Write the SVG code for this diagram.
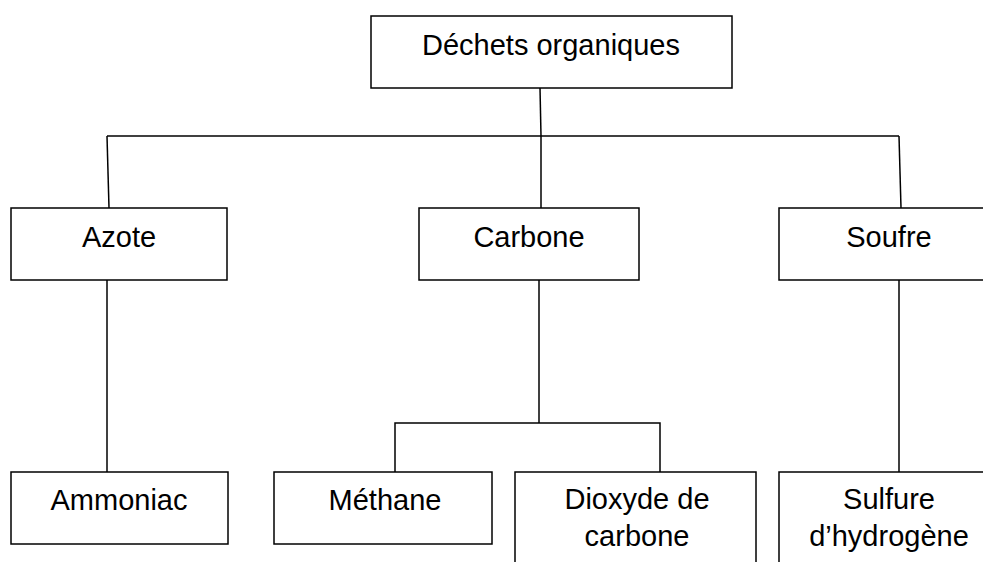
<svg xmlns="http://www.w3.org/2000/svg" width="983" height="562" viewBox="0 0 983 562">
<style>
.box{fill:#fff;stroke:#000;stroke-width:1.5}
.lbl{font-family:"Liberation Sans",Arial,sans-serif;font-size:29px;fill:#000;text-anchor:middle}
.con{fill:none;stroke:#000;stroke-width:1.5}
</style>
<rect width="983" height="562" fill="#fff"/>
<g id="connectors">
<path class="con" d="M540,88 L541,136"/>
<path class="con" d="M107,136 L899,136"/>
<path class="con" d="M107,136 L109,208"/>
<path class="con" d="M541,136 L541,208"/>
<path class="con" d="M899,136 L901,208"/>
<path class="con" d="M107,280 L107,472"/>
<path class="con" d="M539,280 L539,423"/>
<path class="con" d="M395,472 L395,423 L660,423 L660,472"/>
<path class="con" d="M899,280 L899,472"/>
</g>
<g id="dechets"><rect class="box" x="371" y="16" width="361" height="72"/><text class="lbl" x="551" y="55">Déchets organiques</text></g>
<g id="azote"><rect class="box" x="11" y="208" width="216" height="72"/><text class="lbl" x="119" y="247">Azote</text></g>
<g id="carbone"><rect class="box" x="419" y="208" width="220" height="72"/><text class="lbl" x="529" y="247">Carbone</text></g>
<g id="soufre"><rect class="box" x="779" y="208" width="220" height="72"/><text class="lbl" x="889" y="247">Soufre</text></g>
<g id="ammoniac"><rect class="box" x="11" y="472" width="217" height="72"/><text class="lbl" x="119" y="510">Ammoniac</text></g>
<g id="methane"><rect class="box" x="274" y="472" width="218" height="72"/><text class="lbl" x="385" y="510">Méthane</text></g>
<g id="dioxyde"><rect class="box" x="515" y="472" width="241" height="110"/><text class="lbl" x="637" y="509">Dioxyde de</text><text class="lbl" x="637" y="546">carbone</text></g>
<g id="sulfure"><rect class="box" x="779" y="472" width="220" height="110"/><text class="lbl" x="889" y="509">Sulfure</text><text class="lbl" x="889" y="546">d’hydrogène</text></g>
</svg>
